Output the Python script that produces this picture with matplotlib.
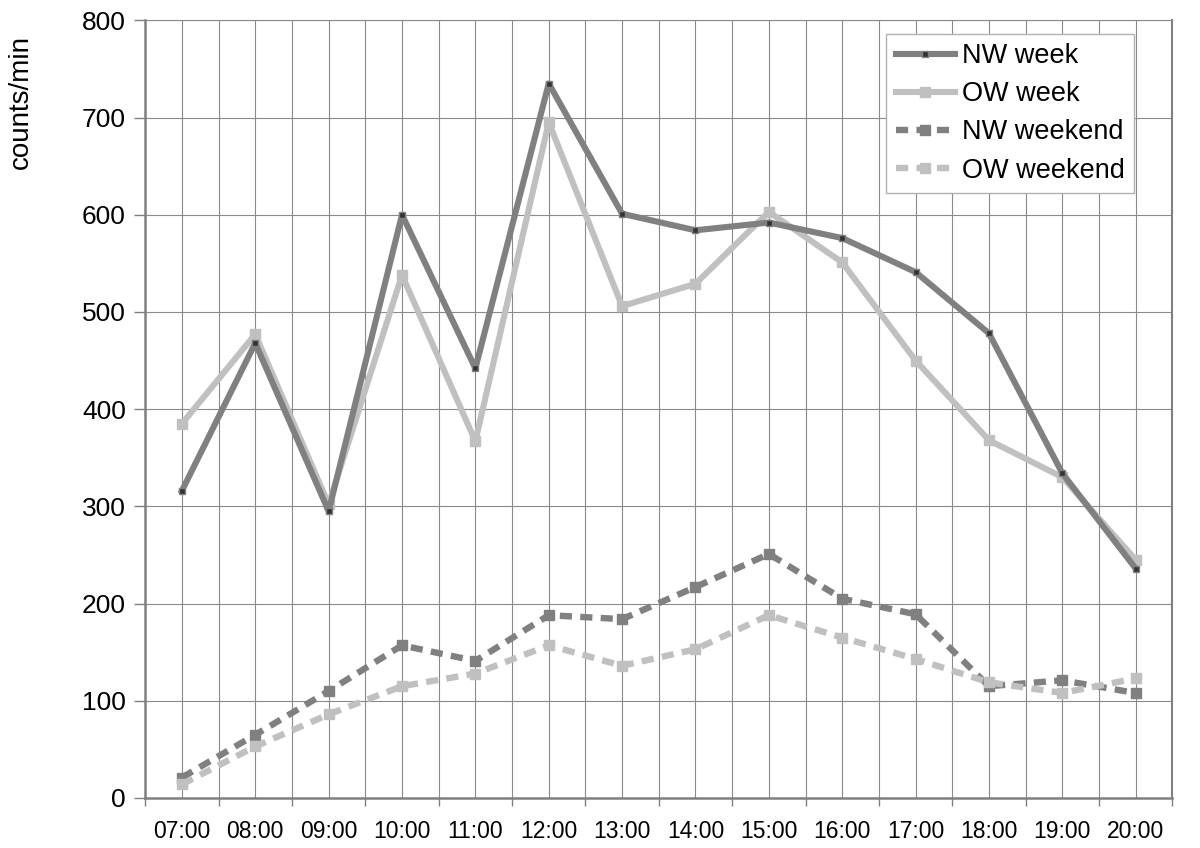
"""counts per minute by hour, week vs weekend"""

import matplotlib
matplotlib.use('Agg')
import matplotlib.pyplot as plt
from matplotlib.ticker import MultipleLocator, FixedLocator

plt.rcParams['font.family'] = ['Liberation Sans', 'DejaVu Sans']

# data

hours = ['07:00', '08:00', '09:00', '10:00', '11:00', '12:00', '13:00',
         '14:00', '15:00', '16:00', '17:00', '18:00', '19:00', '20:00']

nw_week = [316, 468, 295, 600, 442, 735, 601, 584, 592, 576, 541, 478, 334, 236]
ow_week = [385, 477, 302, 538, 367, 695, 506, 529, 603, 551, 450, 368, 330, 245]
nw_weekend = [21, 65, 110, 157, 141, 188, 184, 217, 251, 205, 189, 115, 121, 108]
ow_weekend = [14, 53, 86, 115, 128, 157, 136, 153, 188, 165, 143, 119, 108, 123]

dark = '#808080'
light = '#c0c0c0'

fig = plt.figure(figsize=(12, 8.48), dpi=100)
ax = fig.add_axes([0.121, 0.059, 0.856, 0.917])

x = list(range(len(hours)))

# week lines, solid
ax.plot(x, nw_week, color=dark, lw=4.4, marker='s', ms=5,
        mfc='#333333', mec=dark, mew=1, label='NW week', zorder=4)
ax.plot(x, ow_week, color=light, lw=4.4, marker='s', ms=7,
        mfc=light, mec=light, label='OW week', zorder=3)

# weekend lines, dashed
ax.plot(x, nw_weekend, color=dark, lw=4.6, ls=(0, (1.9, 1.3)), marker='s',
        ms=7.5, mfc=dark, mec=dark, label='NW weekend', zorder=3)
ax.plot(x, ow_weekend, color=light, lw=4.6, ls=(0, (1.9, 1.3)), marker='s',
        ms=7.5, mfc=light, mec=light, label='OW weekend', zorder=3)

ax.set_xlim(-0.5, len(hours) - 0.5)
ax.set_ylim(0, 800)
ax.set_xticks(x)
ax.set_xticklabels(hours, fontsize=16.5)
ax.xaxis.set_minor_locator(FixedLocator([i - 0.5 for i in range(len(hours) + 1)]))
ax.yaxis.set_major_locator(MultipleLocator(100))
ax.tick_params(axis='y', labelsize=19, length=8, width=1, color='#808080', pad=6)
ax.tick_params(axis='x', which='major', length=0, pad=16)
ax.tick_params(axis='x', which='minor', length=6, width=1, color='#808080')

ax.grid(True, which='both', axis='x', color='#8a8a8a', lw=0.8)
ax.grid(True, which='major', axis='y', color='#8a8a8a', lw=0.8)
ax.set_axisbelow(True)

for side in ['left', 'bottom']:
    ax.spines[side].set_color('#808080')
    ax.spines[side].set_linewidth(1.8)
ax.spines['right'].set_color('#808080')
ax.spines['right'].set_linewidth(1.5)
ax.spines['top'].set_color('#8a8a8a')
ax.spines['top'].set_linewidth(0.8)

fig.text(0.017, 0.88, 'counts/min', rotation=90, fontsize=20, ha='center', va='center')

leg = ax.legend(loc='upper right', bbox_to_anchor=(0.963, 0.983), borderaxespad=0,
                fontsize=19.5, fancybox=False, framealpha=1, edgecolor='#b0b0b0',
                handlelength=2.2, handletextpad=0.25, labelspacing=0.45,
                borderpad=0.35)
leg.get_frame().set_linewidth(1)

plt.savefig('out.png', dpi=100)
plt.close()
